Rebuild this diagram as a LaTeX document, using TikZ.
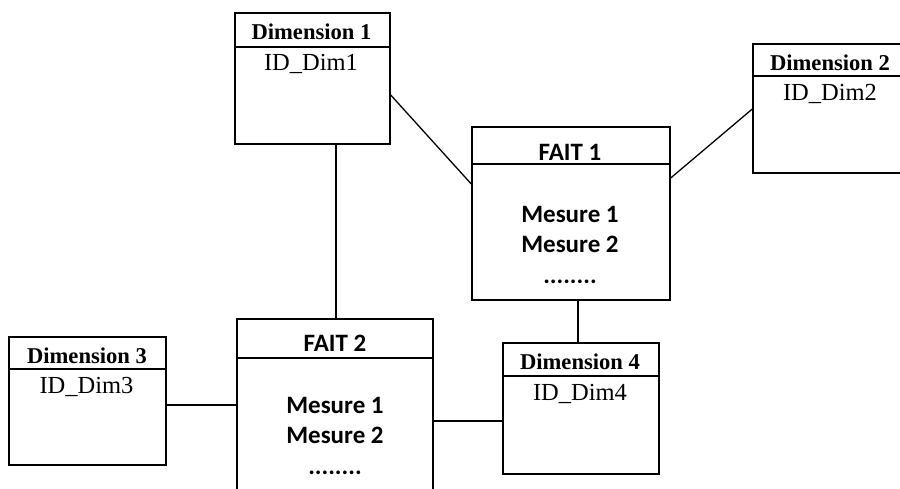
\documentclass[tikz,border=0pt]{standalone}
\usepackage{fontspec}
\setmainfont{Liberation Serif}
\newfontfamily\calib{Carlito}
\begin{document}
\begin{tikzpicture}[x=1pt,y=-1pt,
  tbox/.style={draw, line width=1.4pt, rectangle, inner sep=0pt, fill=none},
  hline/.style={line width=1.4pt},
  conn/.style={line width=1.3pt},
  dimtitle/.style={anchor=base, inner sep=0pt, font=\fontsize{22.6}{24}\selectfont\bfseries},
  dimid/.style={anchor=base, inner sep=0pt, font=\fontsize{24.5}{26}\selectfont},
  fait/.style={anchor=base, inner sep=0pt, font=\calib\fontsize{25}{27}\selectfont\bfseries}]
\clip (0,0) rectangle (900,488);
\fill[white] (0,0) rectangle (900,488);
% boxes
\node[tbox, minimum width=155pt, minimum height=131pt] (d1) at (312.5,78.5) {};
\node[tbox, minimum width=154pt, minimum height=129pt] (d2) at (830,108.5) {};
\node[tbox, minimum width=157pt, minimum height=128pt] (d3) at (87.5,401) {};
\node[tbox, minimum width=156pt, minimum height=131pt] (d4) at (581,408.5) {};
\node[tbox, minimum width=198pt, minimum height=173pt] (f1) at (571,213.5) {};
\node[tbox, minimum width=196pt, minimum height=186pt] (f2) at (335,412) {};
% header lines
\draw[hline] (d1.west |- 0,47) -- (d1.east |- 0,47);
\draw[hline] (d2.west |- 0,76) -- (d2.east |- 0,76);
\draw[hline] (d3.west |- 0,369) -- (d3.east |- 0,369);
\draw[hline] (d4.west |- 0,376) -- (d4.east |- 0,376);
\draw[hline] (f1.west |- 0,164) -- (f1.east |- 0,164);
\draw[hline] (f2.west |- 0,358) -- (f2.east |- 0,358);
% texts
\node[dimtitle] (d1t) at (311.5,39) {Dimension 1};
\node[dimid] (d1i) at (311,70.5) {ID\_Dim1};
\node[dimtitle] (d2t) at (830,70) {Dimension 2};
\node[dimid] (d2i) at (830,100.5) {ID\_Dim2};
\node[dimtitle] (d3t) at (87,363) {Dimension 3};
\node[dimid] (d3i) at (86.5,393) {ID\_Dim3};
\node[dimtitle] (d4t) at (580,369) {Dimension 4};
\node[dimid] (d4i) at (580,400) {ID\_Dim4};
\node[fait] (f1t) at (570,160) {FAIT 1};
\node[fait] (f1a) at (570,222.5) {Mesure 1};
\node[fait] (f1b) at (570,252.5) {Mesure 2};
\node[fait] (f1c) at (570,283) {........};
\node[fait] (f2t) at (335,351) {FAIT 2};
\node[fait] (f2a) at (335,413) {Mesure 1};
\node[fait] (f2b) at (335,443.3) {Mesure 2};
\node[fait] (f2c) at (335,474) {........};
% connectors
\draw[conn] (d1.east |- 0,95) -- (f1.west |- 0,184);
\draw[conn] (d2.west |- 0,109) -- (f1.east |- 0,178);
\draw[conn] (d1.south -| 336,0) -- (f2.north -| 336,0);
\draw[conn] (f1.south -| 578,0) -- (d4.north -| 578,0);
\draw[conn] (d3.east |- 0,405) -- (f2.west |- 0,405);
\draw[conn] (f2.east |- 0,421) -- (d4.west |- 0,421);
\end{tikzpicture}
\end{document}
